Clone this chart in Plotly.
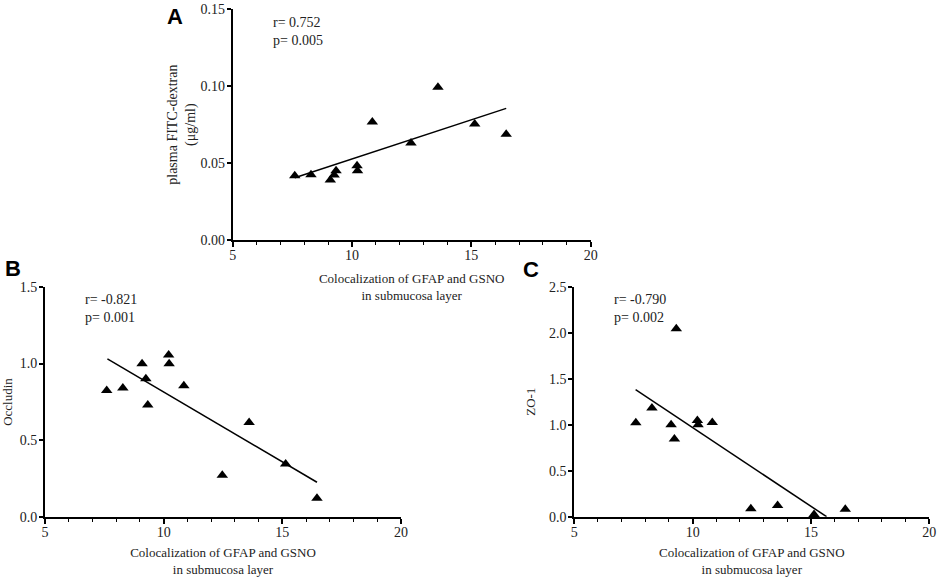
import plotly.graph_objects as go

# shared x values: colocalization of GFAP and GSNO in submucosa layer
x_coloc = [7.6, 8.28, 9.09, 9.25, 9.33, 10.21, 10.23, 10.85, 12.47, 13.6, 15.14, 16.46]

fitc = [0.0418, 0.0425, 0.039, 0.0423, 0.045, 0.0483, 0.045, 0.0767, 0.063, 0.0993, 0.0754, 0.0687]
occludin = [0.824, 0.841, 0.999, 0.902, 0.731, 1.056, 0.999, 0.856, 0.273, 0.616, 0.347, 0.124]
zo1 = [1.022, 1.181, 1.0, 0.844, 2.043, 1.047, 1.0, 1.025, 0.087, 0.123, 0.025, 0.08]
x_zo1 = [7.6, 8.28, 9.09, 9.23, 9.31, 10.2, 10.23, 10.83, 12.46, 13.59, 15.13, 16.45]

# regression lines (endpoints)
fit_a_x = [7.6, 16.46]
fit_a_y = [0.0405, 0.0856]
fit_b_x = [7.63, 16.46]
fit_b_y = [1.03, 0.228]
fit_c_x = [7.59, 15.66]
fit_c_y = [1.38, 0.0]

# tick values
x_ticks = [5, 10, 15, 20]
y_ticks_a = [0, 0.05, 0.10, 0.15]
y_ticks_b = [0, 0.5, 1.0, 1.5]
y_ticks_c = [0, 0.5, 1.0, 1.5, 2.0, 2.5]

stats_a = ["r= 0.752", "p= 0.005"]
stats_b = ["r= -0.821", "p= 0.001"]
stats_c = ["r= -0.790", "p= 0.002"]

x_title = "Colocalization of GFAP and GSNO<br>in submucosa layer"
y_titles = ["plasma FITC-dextran<br>(μg/ml)", "Occludin", "ZO-1"]

SERIF = "Liberation Serif"
TXT = "#222222"

W, H = 941, 577

def px_x(p):
    return p / W

def px_y(p):
    return 1 - p / H

fig = go.Figure()

panels = [
    ("x", "y", x_coloc, fitc, fit_a_x, fit_a_y),
    ("x2", "y2", x_coloc, occludin, fit_b_x, fit_b_y),
    ("x3", "y3", x_zo1, zo1, fit_c_x, fit_c_y),
]
for xa, ya, xs, ys, fx, fy in panels:
    fig.add_trace(go.Scatter(x=xs, y=ys, mode="markers", xaxis=xa, yaxis=ya,
                             marker=dict(symbol="triangle-up", size=10, color="black"),
                             showlegend=False, cliponaxis=False))
    fig.add_trace(go.Scatter(x=fx, y=fy, mode="lines", xaxis=xa, yaxis=ya,
                             line=dict(color="black", width=1.5), showlegend=False))

def xax(domain, anchor):
    return dict(domain=domain, anchor=anchor, range=[x_ticks[0], x_ticks[-1]], tickvals=x_ticks,
                automargin=False, ticklabelstandoff=-4,
                ticks="outside", ticklen=5, tickwidth=1.5, tickcolor="black",
                showline=True, linecolor="black", linewidth=2, showgrid=False, zeroline=False,
                minor=dict(dtick=1, ticks="outside", ticklen=3, tickwidth=1, tickcolor="black"),
                tickfont=dict(family=SERIF, size=14, color=TXT),
                title=dict(text=x_title, font=dict(family=SERIF, size=13, color=TXT), standoff=12))

def yax(domain, anchor, ticks, fmt, title, tsize, standoff):
    return dict(domain=domain, anchor=anchor, range=[ticks[0], ticks[-1]], tickvals=ticks,
                tickformat=fmt, automargin=False, ticklabelstandoff=-1,
                ticks="outside", ticklen=4, tickwidth=1.5, tickcolor="black",
                showline=True, linecolor="black", linewidth=2, showgrid=False, zeroline=False,
                tickfont=dict(family=SERIF, size=14, color=TXT),
                title=dict(text=title, font=dict(family=SERIF, size=tsize, color=TXT), standoff=standoff))

fig.update_layout(
    width=W, height=H, margin=dict(l=0, r=0, t=0, b=0),
    paper_bgcolor="white", plot_bgcolor="white",
    xaxis=xax([px_x(232.7), px_x(590.7)], "y"),
    yaxis=yax([px_y(240), px_y(9.3)], "x", y_ticks_a, ".2f", y_titles[0], 14, 1),
    xaxis2=xax([px_x(45), px_x(401)], "y2"),
    yaxis2=yax([px_y(517.3), px_y(286.7)], "x2", y_ticks_b, ".1f", y_titles[1], 13, 13),
    xaxis3=xax([px_x(574.3), px_x(929.3)], "y3"),
    yaxis3=yax([px_y(516.7), px_y(286.7)], "x3", y_ticks_c, ".1f", y_titles[2], 13, 10),
)

ann = []
for letter, px, py in [("A", 175, 17), ("B", 13, 268), ("C", 531, 269)]:
    ann.append(dict(text=letter, x=px_x(px), y=px_y(py), xref="paper", yref="paper",
                    showarrow=False, xanchor="center", yanchor="middle",
                    font=dict(family="Liberation Sans", size=22, color="black", weight="bold")))
for stats, xa, ya, ytop in [(stats_a, "x", "y", y_ticks_a[-1]), (stats_b, "x2", "y2", y_ticks_b[-1]),
                            (stats_c, "x3", "y3", y_ticks_c[-1])]:
    ann.append(dict(text="<br>".join(stats), x=6.6, y=ytop * 0.985, xref=xa,
                    yref=ya, showarrow=False, xanchor="left", yanchor="top", align="left",
                    font=dict(family=SERIF, size=14, color=TXT)))
fig.update_layout(annotations=ann)

fig.write_html("out.html", config={"displayModeBar": False},
               post_script="document.body.style.margin='0';")
